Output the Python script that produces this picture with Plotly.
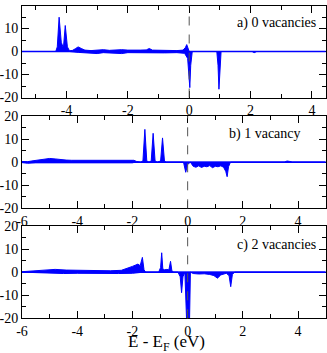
import plotly.graph_objects as go

# panel a) 0 vacancies
e_a_up = [-5.45, -4.35, -4.3, -4.24, -4.17, -4.1, -4.04, -3.97, -3.9, -3.8, -3.7, -3.62, -3.5, -3.4,
          -3.2, -3.0, -2.8, -2.6, -2.4, -2.2, -2.0, -1.8, -1.6, -1.4, -1.3, -1.2, -1.0, -0.8, -0.6,
          -0.4, -0.2, -0.12, -0.08, -0.03, 0.0, 4.45]
dos_a_up = [0, 0, 2, 14.9, 4, 1.5, 11.3, 2, 0.3, 0.5, 1.3, 2.0, 1.2, 0.6,
            0.4, 0.5, 0.8, 0.5, 0.7, 0.8, 0.6, 0.5, 0.6, 0.7, 1.3, 0.6, 0.5, 0.6, 0.5,
            0.4, 0.6, 1.8, 3.0, 1.2, 0, 0]
e_a_dn = [-5.45, -3.9, -3.6, -3.2, -3.0, -2.8, -2.5, -2.2, -2.0, -1.6, -1.2, -0.8, -0.4, -0.15,
          -0.05, 0.0, 0.02, 0.05, 0.1, 0.9, 0.94, 0.97, 1.0, 1.04, 2.05, 2.12, 2.2, 4.45]
dos_a_dn = [0, 0, -0.4, -0.6, -0.9, -0.5, -0.7, -0.9, -0.5, -0.6, -0.5, -0.6, -0.5, -0.8,
            -3, -12, -15.7, -6, 0, 0, -6, -16.4, -8, 0, 0, -0.5, 0, 0]

# panel b) 1 vacancy
e_b_up = [-6, -5.8, -5.6, -5.4, -5.2, -5.0, -4.8, -4.6, -4.4, -4.2, -4.0, -3.6, -3.2, -2.8, -2.4,
          -2.1, -1.95, -1.85, -1.7, -1.62, -1.55, -1.48, -1.4, -1.32, -1.25, -1.18, -1.1, -0.98,
          -0.91, -0.84, -0.78, 3.5, 3.6, 3.7, 3.8, 5]
dos_b_up = [0.3, 0.2, 0.6, 1.0, 1.3, 1.6, 1.4, 1.0, 0.9, 0.8, 0.8, 0.7, 0.6, 0.6, 0.7,
            0.6, 0.8, 0.3, 0, 0.5, 14.2, 0.5, 0, 0.5, 12.5, 0.5, 0, 0.5,
            10.5, 0.5, 0, 0, 0.5, 0.3, 0, 0]
e_b_dn = [-6, -5.8, -5.5, -5.2, -4.8, -4.4, -4, -3.6, -3.2, -2.8, -2.4, -2.0, -1.9, -0.15, -0.07,
          0.0, 0.1, 0.2, 0.3, 0.4, 0.5, 0.6, 0.7, 0.8, 0.9, 1.0, 1.1, 1.2, 1.3, 1.38, 1.43, 1.48,
          1.55, 5]
dos_b_dn = [-0.2, -0.5, -0.3, -0.3, -0.5, -0.5, -0.6, -0.4, -0.5, -0.4, -0.5, -0.3, 0, 0, -4.4,
            -1, 0, -1.8, -2.2, -1.6, -2.3, -1.8, -2.0, -1.5, -2.4, -1.8, -2.0, -1.6, -2.2, -4, -6.3, -2,
            0, 0]

# panel c) 2 vacancies
e_c_up = [-6, -5.6, -5.2, -4.8, -4.4, -4.0, -3.6, -3.2, -2.8, -2.4, -2.2, -2.1, -2.0, -1.9, -1.8,
          -1.72, -1.64, -1.58, -1.52, -1.05, -0.98, -0.94, -0.9, -0.85, -0.75, -0.68, -0.62, -0.57,
          -0.5, 5]
dos_c_up = [0.2, 0.5, 0.8, 1.2, 0.9, 0.8, 0.7, 0.8, 0.6, 0.8, 1.5, 2.0, 2.5, 3.0, 3.5,
            2.8, 6.4, 1, 0, 0, 2, 8.4, 1.5, 1.0, 1.2, 1.0, 4.7, 0.5,
            0, 0]
e_c_dn = [-6, -5.5, -5, -4.5, -4, -3.5, -3, -2.5, -2, -1.6, -0.35, -0.27, -0.22, -0.17, -0.1,
          -0.07, -0.03, 0.03, 0.07, 0.1, 0.2, 0.4, 0.6, 0.8, 0.95, 1.08, 1.2, 1.4, 1.5, 1.56, 1.62,
          1.7, 5]
dos_c_dn = [0, -0.3, -0.4, -0.6, -0.5, -0.6, -0.5, -0.6, -0.5, 0, 0, -2, -8.9, -2, 0,
            -20, -24, -24, -20, 0, -0.6, -0.8, -0.7, -1.0, -1.5, -2.6, -1.2, -0.5, -1.5, -6.3, -1,
            0, 0]

labels = ["a) 0 vacancies", "b) 1 vacancy", "c) 2 vacancies"]
x_title = "E - E<sub>F</sub> (eV)"
x_ranges = [[-5.45, 4.45], [-6, 5], [-6, 5]]
y_tickvals = [-20, -10, 0, 10, 20]
y_ticktext = ["-20", "-10", "0", "10", "20"]
x_tickvals = [-6, -4, -2, 0, 2, 4]
x_ticktext = ["-6", "-4", "-2", "0", "2", "4"]

panels = [(e_a_up, dos_a_up, e_a_dn, dos_a_dn),
          (e_b_up, dos_b_up, e_b_dn, dos_b_dn),
          (e_c_up, dos_c_up, e_c_dn, dos_c_dn)]

W, H = 327, 353
x_dom = [22 / W, 325.7 / W]
# pixel top/bottom of each panel
rows_px = [(5.5, 97.5), (116, 208.3), (226, 318.3)]
# label position inside each panel (x, y in domain fractions)
label_pos = [(0.975, 0.808), (0.924, 0.80), (0.975, 0.794)]

font = "Liberation Serif, Times New Roman, serif"
fig = go.Figure()

for i, (eu, du, ed, dd) in enumerate(panels):
    n = "" if i == 0 else str(i + 1)
    for xs, ys in [(eu, du), (ed, dd)]:
        fig.add_trace(go.Scatter(x=xs, y=ys, mode="lines", fill="tozeroy",
                                 line=dict(color="#0000ff", width=1),
                                 fillcolor="#0000ff", xaxis="x" + n, yaxis="y" + n,
                                 showlegend=False, hoverinfo="skip"))
    top, bot = rows_px[i]
    axis_common = dict(showline=True, linecolor="black", linewidth=1, mirror="ticks",
                       ticks="inside", ticklen=7, tickcolor="black", showgrid=False,
                       zeroline=False, tickfont=dict(family=font, size=14, color="black"),
                       automargin=False)
    fig.update_layout(**{
        "xaxis" + n: dict(domain=x_dom, range=x_ranges[i], anchor="y" + n,
                          tickmode="array", tickvals=x_tickvals, ticktext=x_ticktext,
                          minor=dict(tickmode="linear", tick0=0, dtick=1, ticks="inside",
                                     ticklen=4, tickcolor="black"),
                          **axis_common),
        "yaxis" + n: dict(domain=[1 - bot / H, 1 - top / H], range=[-20, 20], anchor="x" + n,
                          tickmode="array", tickvals=y_tickvals, ticktext=y_ticktext,
                          minor=dict(tickmode="linear", tick0=0, dtick=5, ticks="inside",
                                     ticklen=4, tickcolor="black"),
                          **axis_common),
    })
    # Fermi level and zero line
    fig.add_shape(type="line", x0=0, x1=0, y0=0, y1=1, xref="x" + n, yref="y" + n + " domain",
                  line=dict(color="#555555", width=1, dash="dash"))
    fig.add_shape(type="line", x0=0, x1=1, y0=0, y1=0, xref="x" + n + " domain", yref="y" + n,
                  line=dict(color="#0000ff", width=1.5))
    lx, ly = label_pos[i]
    fig.add_annotation(text=labels[i], x=lx, y=ly, xref="x" + n + " domain",
                       yref="y" + n + " domain", xanchor="right", yanchor="middle",
                       showarrow=False, font=dict(family=font, size=14, color="black"))

# x title as paper annotation (axis titles get clamped by the zero margin)
fig.add_annotation(text=x_title, x=166.5 / W, y=1 - 342.5 / H, xref="paper", yref="paper",
                   xanchor="center", yanchor="middle", showarrow=False,
                   font=dict(family=font, size=17, color="black"))

fig.update_layout(
    width=W, height=H, margin=dict(l=0, r=0, t=0, b=0),
    plot_bgcolor="white", paper_bgcolor="white",
)

# drop the default page margin so the figure sits at the window corner
fig.write_html("out.html", config={"displayModeBar": False},
               post_script="document.body.style.margin='0';")
